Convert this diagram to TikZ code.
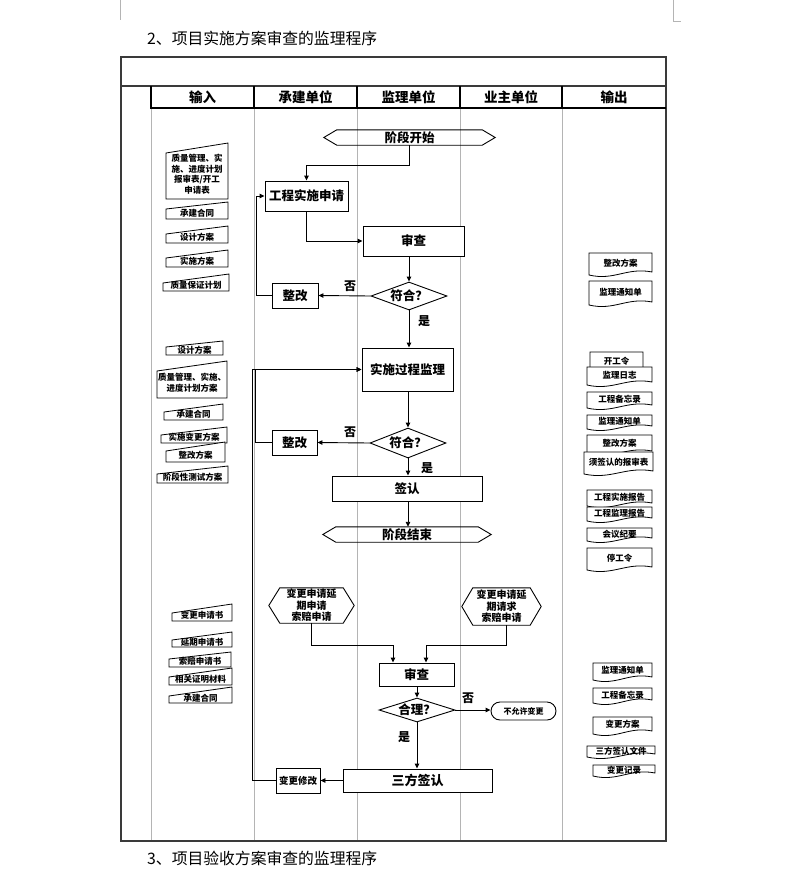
\documentclass[tikz,border=0pt]{standalone}
\usepackage{fontspec}
\setmainfont{Noto Sans CJK SC}
\usetikzlibrary{arrows.meta,shapes.geometric}
\definecolor{framec}{HTML}{3A3A3A}
\definecolor{colc}{HTML}{B4B4B4}
\tikzset{
  box/.style={draw, line width=0.9pt, fill=white, inner sep=0pt, font=\fontsize{12.5}{14}\selectfont\bfseries},
  dia/.style={draw, diamond, line width=0.9pt, fill=white, inner sep=0pt, font=\fontsize{12.5}{14}\selectfont\bfseries},
  hexnode/.style={inner sep=0pt, align=center},
  hexline/.style={line width=0.9pt},
  arr/.style={line width=0.9pt, -{Triangle[length=5pt,width=4.5pt]}},
  docline/.style={line width=0.8pt, fill=white},
  doctext/.style={inner sep=0pt, align=center, font=\fontsize{8.5}{10.5}\selectfont\bfseries},
  lbl/.style={inner sep=0pt, font=\fontsize{12}{13}\selectfont\bfseries},
  head/.style={inner sep=0pt, font=\fontsize{13.5}{15}\selectfont\bfseries},
  ttl/.style={inner sep=0pt, anchor=west, font=\fontsize{15.8}{18}\selectfont},
}
\newcommand\indoc[7]{%
  \draw[docline] (#2,#4) -- (#3,#5) -- (#3,#6) -- (#2,#6) -- cycle;
  \node[doctext] (#1) at ({(#2+#3)/2},{((#4+#5)/2+#6)/2+0.5}) {#7};
}
\newcommand\outdoc[6]{%
  \draw[docline] (#2,#5) -- (#2,#4) -- (#3,#4) -- (#3,{#5-3}) .. controls ({#2+0.6*(#3-#2)},{#5-8}) and ({#2+0.4*(#3-#2)},{#5+6}) .. (#2,#5) -- cycle;
  \node[doctext] (#1) at ({(#2+#3)/2},{#4+0.45*(#5-#4)}) {#6};
}
\newcommand\hexa[2]{%
  \draw[hexline] (#1.north west) -- (#1.north east) -- ([xshift=#2pt]#1.east) -- (#1.south east) -- (#1.south west) -- ([xshift=-#2pt]#1.west) -- cycle;
}
\begin{document}
\begin{tikzpicture}[x=1pt,y=-1pt]
\useasboundingbox[fill=white] (0,0) rectangle (794,870);
% crop marks
\draw[colc, line width=0.6pt] (120,0) -- (120,20);
\draw[colc, line width=0.6pt] (673,0) -- (673,21) -- (681,21);
% titles
\node[ttl] (t1) at (147,38) {2、项目实施方案审查的监理程序};
\node[ttl] (t2) at (147,858) {3、项目验收方案审查的监理程序};
% table
\draw[colc, line width=1pt] (151,108) -- (151,841) (254,108) -- (254,841) (357,108) -- (357,841) (460,108) -- (460,841) (562,108) -- (562,841);
\draw[framec, line width=1.2pt] (121,57) rectangle (666,841);
\draw[framec, line width=1.8pt] (121,86) -- (666,86);
\draw[line width=1.1pt] (151,86) -- (151,108) -- (666,108);
\draw[line width=1.1pt] (254,86) -- (254,108) (357,86) -- (357,108) (460,86) -- (460,108) (562,86) -- (562,108);
\node[head] (h1) at (202.5,97) {输入};
\node[head] (h2) at (305.5,97) {承建单位};
\node[head] (h3) at (408.5,97) {监理单位};
\node[head] (h4) at (511,97) {业主单位};
\node[head] (h5) at (614,97) {输出};
% input documents
\indoc{i1}{166}{228}{153}{143}{199}{质量管理、实\\施、进度计划\\报审表/开工\\申请表}
\indoc{i2}{166}{228}{209}{202}{219}{承建合同}
\indoc{i3}{166}{228}{234}{226}{243}{设计方案}
\indoc{i4}{166}{228}{258}{250}{267}{实施方案}
\indoc{i5}{163}{229}{283}{274}{291}{质量保证计划}
\indoc{i6}{166}{223}{347}{341}{355}{设计方案}
\indoc{i7}{157}{227}{371}{361}{398}{质量管理、实施、\\进度计划方案}
\indoc{i8}{164}{223}{412}{404}{420}{承建合同}
\indoc{i9}{161}{227}{435}{427}{443}{实施变更方案}
\indoc{i10}{166}{225}{451}{442}{462}{整改方案}
\indoc{i11}{157}{228}{474}{466}{483}{阶段性测试方案}
\indoc{i12}{172}{232}{613}{604}{621}{变更申请书}
\indoc{i13}{172}{232}{640}{632}{647}{延期申请书}
\indoc{i14}{169}{231}{659}{652}{667}{索赔申请书}
\indoc{i15}{169}{232}{677}{668}{685}{相关证明材料}
\indoc{i16}{169}{232}{696}{687}{703}{承建合同}
% output documents
\outdoc{o1}{589}{652}{253}{275}{整改方案}
\outdoc{o2}{589}{652}{281}{305}{监理通知单}
\outdoc{o3}{590}{643}{352}{372}{开工令}
\outdoc{o4}{587}{652}{367}{385}{监理日志}
\outdoc{o5}{587}{652}{392}{408}{工程备忘录}
\outdoc{o6}{587}{652}{415}{429}{监理通知单}
\outdoc{o7}{587}{652}{435}{454}{整改方案}
\outdoc{o8}{584}{653}{452}{474}{须签认的报审表}
\outdoc{o9}{587}{652}{490}{506}{工程实施报告}
\outdoc{o10}{587}{652}{507}{521}{工程监理报告}
\outdoc{o11}{587}{652}{528}{541}{会议纪要}
\outdoc{o12}{587}{652}{548}{570}{停工令}
\outdoc{o13}{593}{652}{663}{680}{监理通知单}
\outdoc{o14}{593}{652}{688}{703}{工程备忘录}
\outdoc{o15}{593}{652}{717}{734}{变更方案}
\outdoc{o16}{587}{655}{746}{757}{三方签认文件}
\outdoc{o17}{593}{655}{765}{776}{变更记录}
% main flow nodes
\node[hexnode, minimum width=145pt, minimum height=15pt, font=\fontsize{12.5}{14}\selectfont\bfseries] (start) at (409.5,137.5) {阶段开始};
\hexa{start}{13}
\node[box, minimum width=83pt, minimum height=30pt] (apply) at (306.5,196) {工程实施申请};
\node[box, minimum width=101pt, minimum height=30pt] (rev1) at (413.5,241) {审查};
\node[dia, minimum width=76pt, minimum height=28pt] (dec1) at (409,296) {\makebox[0pt]{符合？}};
\node[box, minimum width=46pt, minimum height=25pt] (fix1) at (295,295.5) {整改};
\node[box, minimum width=91pt, minimum height=43pt] (proc) at (407.5,369.5) {实施过程监理};
\node[dia, minimum width=76pt, minimum height=30pt] (dec2) at (408,443) {\makebox[0pt]{符合？}};
\node[box, minimum width=45pt, minimum height=25pt] (fix2) at (294.5,442.5) {整改};
\node[box, minimum width=150pt, minimum height=25pt] (sign) at (407,488.5) {签认};
\node[hexnode, minimum width=142pt, minimum height=15pt, font=\fontsize{12.5}{14}\selectfont\bfseries] (endh) at (407,534.5) {阶段结束};
\hexa{endh}{13}
% lower flow nodes
\node[hexnode, minimum width=63pt, minimum height=35pt, font=\fontsize{10}{11.5}\selectfont\bfseries] (hexL) at (311.5,605.5) {变更申请延\\期申请\\索赔申请};
\hexa{hexL}{11}
\node[hexnode, minimum width=57pt, minimum height=37pt, font=\fontsize{10}{11.5}\selectfont\bfseries] (hexR) at (501.5,606.5) {变更申请延\\期请求\\索赔申请};
\hexa{hexR}{11}
\node[box, minimum width=75pt, minimum height=23pt] (rev2) at (416.5,674.5) {审查};
\node[dia, minimum width=76pt, minimum height=24pt] (dec3) at (417,710) {\makebox[0pt]{合理？}};
\node[box, rounded corners=9pt, minimum width=65pt, minimum height=18pt, font=\fontsize{8}{9}\selectfont\bfseries] (deny) at (523.5,711) {不允许变更};
\node[box, minimum width=149pt, minimum height=23pt, font=\fontsize{13}{15}\selectfont\bfseries] (tri) at (417.5,780.5) {三方签认};
\node[box, minimum width=44pt, minimum height=25pt, font=\fontsize{9.5}{11}\selectfont\bfseries] (mod) at (298,780.5) {变更修改};
% labels
\node[lbl] (n1) at (350,286) {否};
\node[lbl] (y1) at (424,321) {是};
\node[lbl] (n2) at (350,432) {否};
\node[lbl] (y2) at (427,468) {是};
\node[lbl] (n3) at (468,698) {否};
\node[lbl] (y3) at (404,737) {是};
% connectors
\draw[arr] (start.south) -- ++(0,20) -| (apply.north);
\draw[arr] (apply.south) |- (rev1.west);
\draw[arr] (rev1.south -| dec1.north) -- (dec1.north);
\draw[arr] (dec1.west) -- (fix1.east);
\draw[arr] (fix1.west) -- ++(-15,0) |- (apply.west);
\draw[arr] (dec1.south) -- (dec1.south |- proc.north);
\draw[arr] (proc.south -| dec2.north) -- (dec2.north);
\draw[arr] (dec2.west) -- (fix2.east);
\draw[arr] (fix2.west) -- ++(-16,0) |- (proc.west);
\draw[arr] (dec2.south) -- (dec2.south |- sign.north);
\draw[arr] (sign.south -| dec2.south) -- (endh.north -| dec2.south);
\draw[arr] (hexL.south) -- ++(0,22) -| ([xshift=-23.5pt]rev2.north);
\draw[arr] ([xshift=4.5pt]hexR.south) -- ++(0,20) -| ([xshift=9.5pt]rev2.north);
\draw[arr] (rev2.south -| dec3.north) -- (dec3.north);
\draw[arr] (dec3.east) -- (dec3.east -| deny.west);
\draw[arr] (dec3.south) -- (dec3.south |- tri.north);
\draw[arr] (tri.west) -- (mod.east);
\draw[arr] (mod.west) -- ++(-23,0) |- (proc.west);
\end{tikzpicture}
\end{document}
